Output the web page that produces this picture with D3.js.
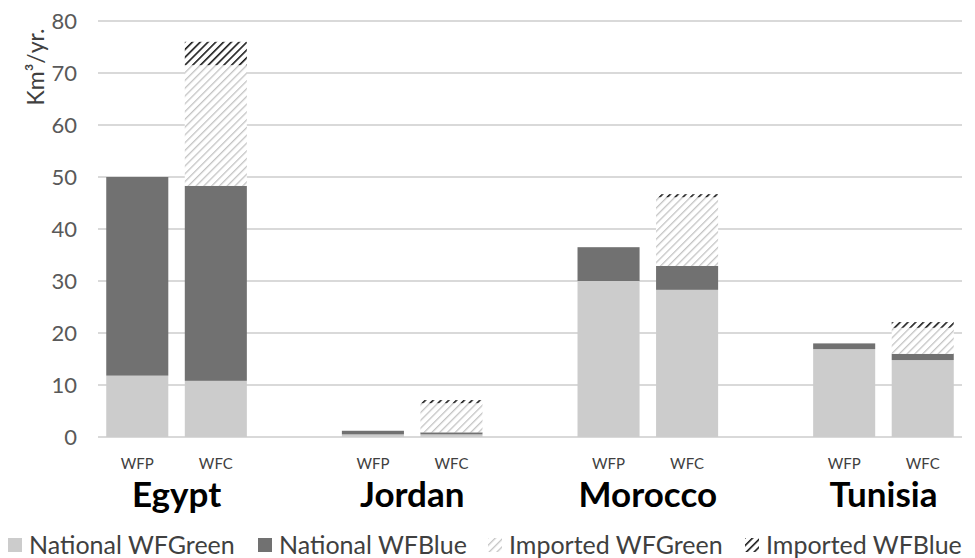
<!DOCTYPE html>
<html><head><meta charset="utf-8">
<script src="https://cdn.jsdelivr.net/npm/d3@7"></script>
<style>body{margin:0;background:#fff}svg{display:block}</style>
</head><body>
<svg id="c" width="975" height="558"></svg>
<script>
const countries = ["Egypt","Jordan","Morocco","Tunisia"];
const bars = ["WFP","WFC"];
const seriesNames = ["National WFGreen","National WFBlue","Imported WFGreen","Imported WFBlue"];
// values per slot: Egypt WFP, Egypt WFC, Jordan WFP, Jordan WFC, Morocco WFP, Morocco WFC, Tunisia WFP, Tunisia WFC
const nationalGreen  = [11.8, 10.8, 0.5, 0.5, 30.0, 28.3, 16.9, 14.8];
const nationalBlue   = [38.2, 37.5, 0.7, 0.4, 6.5, 4.6, 1.1, 1.2];
const importedGreen  = [0, 23.2, 0, 5.6, 0, 13.2, 0, 5.0];
const importedBlue   = [0, 4.5, 0, 0.6, 0, 0.6, 0, 1.1];
const yTicks = [0,10,20,30,40,50,60,70,80];

const svg = d3.select("#c");
const font = "Lato, 'Open Sans', sans-serif";
const defs = svg.append("defs");
function hatch(id, color, w, s){
  const p = defs.append("pattern").attr("id",id).attr("patternUnits","userSpaceOnUse")
    .attr("width",s).attr("height",s).attr("patternTransform","rotate(45)");
  p.append("rect").attr("width",s).attr("height",s).attr("fill","#fff");
  p.append("line").attr("x1",0).attr("y1",0).attr("x2",0).attr("y2",s)
    .attr("stroke",color).attr("stroke-width",w);
}
hatch("hg","#c4c4c4",2.6,5.5);
hatch("hb","#1a1a1a",3.2,5.5);
const fills = ["#cccccc","#717171","url(#hg)","url(#hb)"];
const legendFills = fills;

// slot categories including gaps
const slots = [];
countries.forEach((c,i)=>{ bars.forEach(b=>slots.push(c+"|"+b)); if(i<countries.length-1) slots.push("gap"+i); });
const barKeys = slots.filter(s=>!s.startsWith("gap"));

const x = d3.scaleBand().domain(slots).range([98,962]).paddingInner(0.21).paddingOuter(0.105);
const y = d3.scaleLinear().domain([0,80]).range([437,21]);

// gridlines
svg.append("g").selectAll("line").data(yTicks).join("line")
  .attr("x1",98).attr("x2",962).attr("y1",d=>y(d)).attr("y2",d=>y(d))
  .attr("stroke","#d9d9d9").attr("stroke-width",2);

// y axis labels via d3 axis
const ya = d3.axisLeft(y).tickValues(yTicks).tickSize(0).tickPadding(0);
const yg = svg.append("g").attr("transform","translate(77,0)").call(ya);
yg.select(".domain").remove();
yg.selectAll("text").attr("font-family",font).attr("font-size",22).attr("fill","#595959");

svg.append("text").attr("transform","translate(44,67) rotate(-90)")
  .attr("text-anchor","middle").attr("font-family",font).attr("font-size",23).attr("fill","#404040")
  .text("Km³/yr.");

// stacked data
const rows = barKeys.map((k,i)=>({key:k, s0:nationalGreen[i], s1:nationalBlue[i], s2:importedGreen[i], s3:importedBlue[i]}));
const stack = d3.stack().keys(["s0","s1","s2","s3"])(rows);
svg.append("g").selectAll("g").data(stack).join("g")
  .attr("fill",(d,i)=>fills[i])
  .selectAll("rect").data(d=>d).join("rect")
  .attr("x",d=>x(d.data.key)).attr("width",x.bandwidth())
  .attr("y",d=>y(d[1])).attr("height",d=>Math.max(0,y(d[0])-y(d[1])));

// bar labels
svg.append("g").selectAll("text").data(barKeys).join("text")
  .attr("x",d=>x(d)+x.bandwidth()/2).attr("y",469).attr("text-anchor","middle")
  .attr("font-family",font).attr("font-size",15).attr("fill","#404040")
  .text(d=>d.split("|")[1]);

// country labels
svg.append("g").selectAll("text").data(countries).join("text")
  .attr("x",c=>(x(c+"|WFP")+x(c+"|WFC")+x.bandwidth())/2).attr("y",507).attr("text-anchor","middle")
  .attr("font-family",font).attr("font-weight","bold").attr("font-size",35).attr("fill","#000")
  .text(d=>d);

// legend
const legX = [8,258,488,745];
const lg = svg.append("g").selectAll("g").data(seriesNames).join("g")
  .attr("transform",(d,i)=>`translate(${legX[i]},0)`);
lg.append("rect").attr("x",0).attr("y",538).attr("width",14).attr("height",14).attr("fill",(d,i)=>legendFills[i]);
lg.append("text").attr("x",21).attr("y",554).attr("font-family",font).attr("font-size",25).attr("fill","#404040").text(d=>d);
</script>
</body></html>
